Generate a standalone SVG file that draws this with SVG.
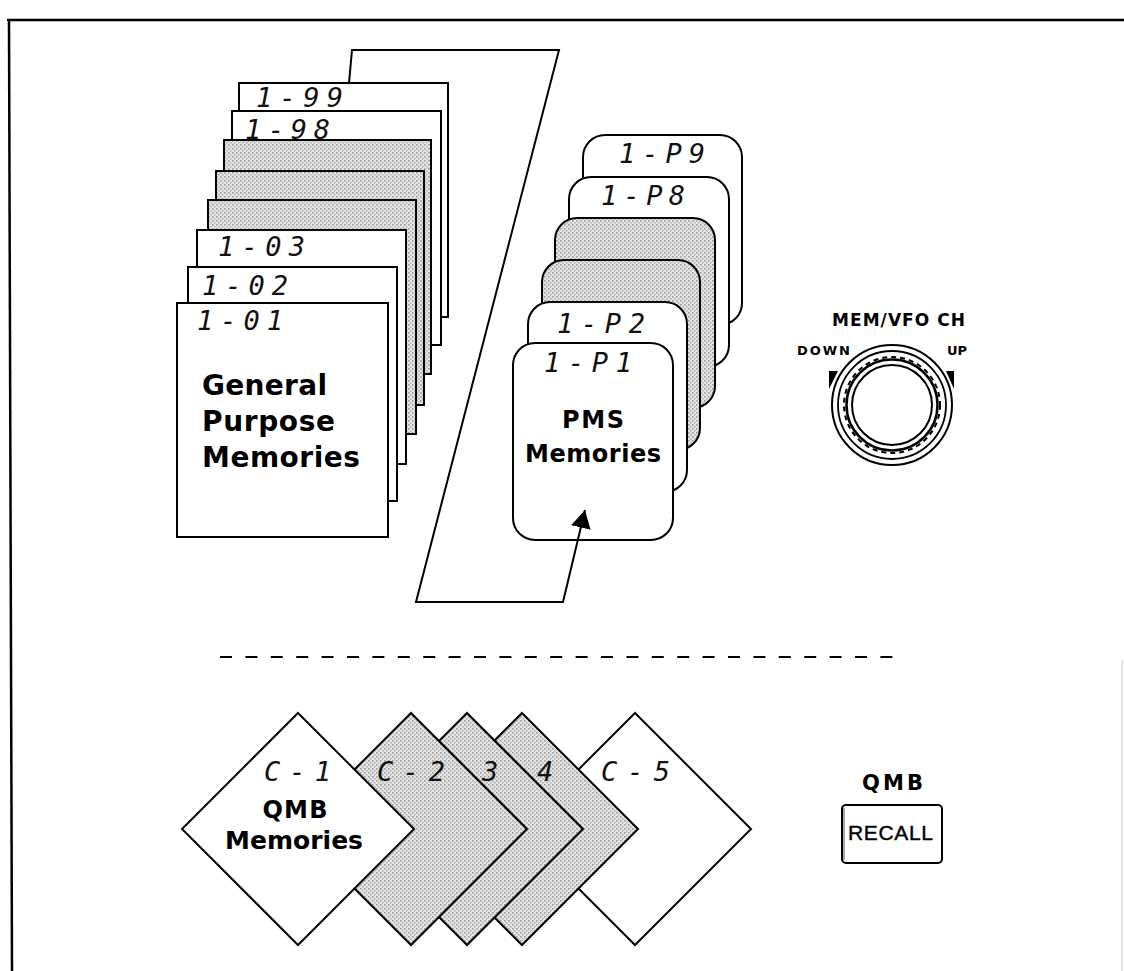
<svg xmlns="http://www.w3.org/2000/svg" width="1124" height="971" viewBox="0 0 1124 971">
<style>
.card{fill:#fff;stroke:#000;stroke-width:2}
.shade{fill:url(#stip);stroke:#000;stroke-width:2}
.seg{font-family:"DejaVu Sans Mono",monospace;font-style:oblique;font-size:27px;fill:#111}
.big{font-family:"DejaVu Sans",sans-serif;font-weight:bold;fill:#000}
.conn{fill:none;stroke:#000;stroke-width:2}
.frame{fill:none;stroke:#000;stroke-width:2.5}
</style>
<defs>
<pattern id="stip" width="4" height="4" patternUnits="userSpaceOnUse">
<rect width="4" height="4" fill="#e4e4e4"/>
<rect x="0" y="0" width="1.6" height="1.6" fill="#9c9c9c"/>
<rect x="2" y="2" width="1.6" height="1.6" fill="#b4b4b4"/>
</pattern>
<marker id="ah" viewBox="0 0 18 20" refX="18" refY="10" markerWidth="18" markerHeight="20" markerUnits="userSpaceOnUse" orient="auto">
<path d="M0,0 L18,10 L0,20 z" fill="#000"/>
</marker>
</defs>
<rect width="1124" height="971" fill="#fff"/>
<g id="frame">
<line class="frame" x1="7" y1="20" x2="1124" y2="20"/>
<line class="frame" x1="9" y1="20" x2="12" y2="971"/>
<line x1="1122" y1="660" x2="1122" y2="971" stroke="#c8c8c8" stroke-width="1"/>
</g>
<g id="general-memories">
<rect class="card" x="239" y="83" width="209" height="234"/>
<text class="seg" x="256" y="107" textLength="87">1-99</text>
<rect class="card" x="232" y="111" width="209" height="234"/>
<text class="seg" x="245" y="139" textLength="85">1-98</text>
<rect class="shade" x="224" y="140" width="207" height="234"/>
<rect class="shade" x="216" y="171" width="208" height="234"/>
<rect class="shade" x="208" y="200" width="208" height="234"/>
<rect class="card" x="197" y="230" width="209" height="234"/>
<text class="seg" x="218" y="256" textLength="87">1-03</text>
<rect class="card" x="188" y="267" width="209" height="234"/>
<text class="seg" x="202" y="295" textLength="86">1-02</text>
<rect class="card" x="177" y="303" width="211" height="234"/>
<text class="seg" x="197" y="330" textLength="86">1-01</text>
<text class="big" font-size="28" x="202" y="395" textLength="125">General</text>
<text class="big" font-size="28" x="202" y="431" textLength="133">Purpose</text>
<text class="big" font-size="28" x="202" y="467" textLength="158">Memories</text>
</g>
<g id="pms-memories">
<rect class="card" x="583" y="135" width="159" height="190" rx="22"/>
<text class="seg" x="619" y="163" textLength="86">1-P9</text>
<rect class="card" x="569" y="177" width="160" height="190" rx="22"/>
<text class="seg" x="601" y="205" textLength="84">1-P8</text>
<rect class="shade" x="555" y="218" width="160" height="190" rx="22"/>
<rect class="shade" x="542" y="260" width="158" height="190" rx="22"/>
<rect class="card" x="528" y="302" width="159" height="190" rx="22"/>
<text class="seg" x="557" y="333" textLength="88">1-P2</text>
<rect class="card" x="513" y="343" width="160" height="197" rx="22"/>
<text class="seg" x="544" y="372" textLength="88">1-P1</text>
<text class="big" font-size="24" x="593" y="428" text-anchor="middle" textLength="62">PMS</text>
<text class="big" font-size="24" x="593" y="462" text-anchor="middle" textLength="136">Memories</text>
</g>
<g id="mem-vfo-knob">
<text class="big" font-size="17" x="832" y="326" textLength="133">MEM/VFO CH</text>
<text class="big" font-size="13" x="797" y="355" textLength="53">DOWN</text>
<text class="big" font-size="13" x="947" y="355" textLength="20">UP</text>
<circle cx="892" cy="405" r="60" fill="#fff" stroke="#000" stroke-width="2"/>
<circle cx="892" cy="405" r="54" fill="none" stroke="#000" stroke-width="1.8"/>
<circle cx="892" cy="405" r="48" fill="none" stroke="#000" stroke-width="2" stroke-dasharray="5 4"/>
<circle cx="892" cy="405" r="45.5" fill="none" stroke="#000" stroke-width="2.5"/>
<circle cx="892" cy="405" r="40" fill="none" stroke="#000" stroke-width="2"/>
<polygon points="829,371 838,371 829,389" fill="#000"/>
<polygon points="946,371 954,371 954,389" fill="#000"/>
</g>
<g id="separator">
<line x1="220" y1="657" x2="905" y2="657" stroke="#000" stroke-width="2" stroke-dasharray="12 13.4"/>
</g>
<g id="qmb-memories">
<polygon class="card" points="635,713 751,829 635,945 519,829"/>
<text class="seg" x="601" y="781" textLength="69">C-5</text>
<polygon class="shade" points="522,713 638,829 522,945 406,829"/>
<text class="seg" x="537" y="781">4</text>
<polygon class="shade" points="467,713 583,829 467,945 351,829"/>
<text class="seg" x="482" y="781">3</text>
<polygon class="shade" points="411,713 527,829 411,945 295,829"/>
<text class="seg" x="377" y="781" textLength="68">C-2</text>
<polygon class="card" points="298,713 414,829 298,945 182,829"/>
<text class="seg" x="264" y="781" textLength="67">C-1</text>
<text class="big" font-size="24" x="295" y="818" text-anchor="middle" textLength="65">QMB</text>
<text class="big" font-size="25" x="294" y="849" text-anchor="middle" textLength="138">Memories</text>
</g>
<g id="qmb-recall">
<text class="big" font-size="21" x="862" y="790" textLength="61">QMB</text>
<rect x="842" y="805" width="100" height="58" rx="4" fill="#fff" stroke="#000" stroke-width="2"/>
<line x1="844" y1="808" x2="844" y2="860" stroke="#555" stroke-width="1"/>
<text x="848" y="840" font-family="Liberation Sans, Arial, sans-serif" font-size="21" stroke="#000" stroke-width="0.4" textLength="85">RECALL</text>
</g>
<g id="connectors">
<path class="conn" d="M349,83 L352,50 L559,50 L416,602 L563,602 L585,510" marker-end="url(#ah)"/>
</g>
</svg>
